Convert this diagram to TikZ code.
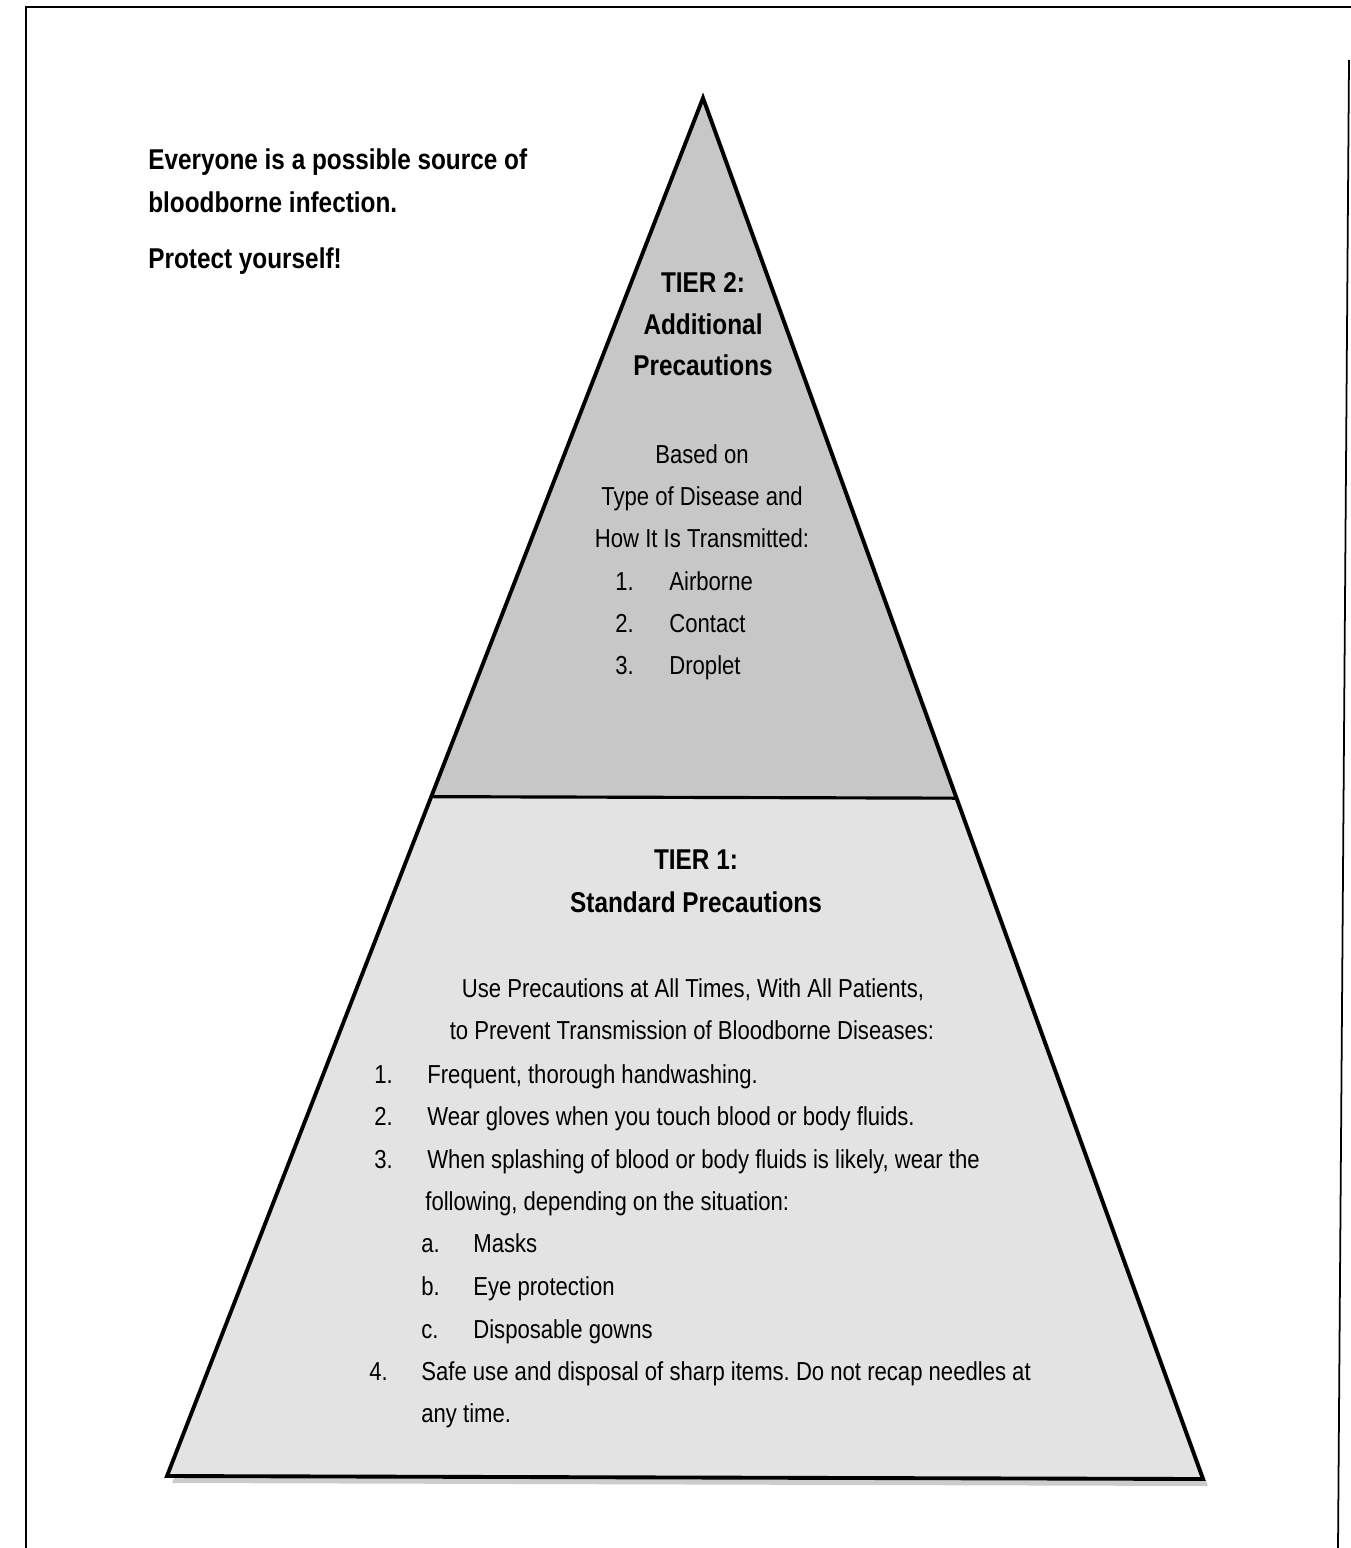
\documentclass[tikz,border=0pt]{standalone}
\usepackage{fontspec}
\setmainfont{Liberation Sans}[FakeStretch=0.85]
\usetikzlibrary{calc}
\frenchspacing
\tikzset{
  outline/.style={draw, line width=2.2pt, line join=miter},
  tiertop/.style={fill=black!22},
  tierbase/.style={fill=black!11},
  head/.style={font=\bfseries\fontsize{16.3}{19}\selectfont, inner sep=0pt, anchor=base},
  body/.style={font=\fontsize{14.8}{17}\selectfont, inner sep=0pt, anchor=base},
  item/.style={body, anchor=base west},
  note/.style={head, anchor=base west},
}

\begin{document}
\begin{tikzpicture}[x=0.02cm,y=-0.02cm]
  \useasboundingbox (0,0) rectangle (1351,1548);
  % page frame
  \draw[line width=1pt] (26,1548) -- (26,7) -- (1351,7);
  \draw[line width=1pt] (1349,60) -- (1338,1548);

  % pyramid
  \coordinate (apex) at (703,98);
  \coordinate (bl) at (167,1476);
  \coordinate (br) at (1203,1479);
  \coordinate (dl) at ($(apex)!0.507!(bl)$);
  \coordinate (dr) at ($(apex)!0.507!(br)$);
  \fill[black!20] ($(apex)+(5,7)$) -- ($(br)+(5,7)$) -- ($(bl)+(5,7)$) -- cycle;
  \fill[tiertop] (apex) -- (dr) -- (dl) -- cycle;
  \fill[tierbase] (dl) -- (dr) -- (br) -- (bl) -- cycle;
  \draw[outline] (apex) -- (br) -- (bl) -- cycle;
  \draw[line width=1.8pt] (dl) -- (dr);

  % side note
  \node[note] (warn1) at (148,170) {Everyone is a possible source of};
  \node[note] (warn2) at (148,212) {bloodborne infection.};
  \node[note] (warn3) at (148,268) {Protect yourself!};

  % tier 2
  \node[head] (t2) at (703,292) {TIER 2:};
  \node[head] (t2a) at (703,334) {Additional};
  \node[head] (t2b) at (703,375) {Precautions};
  \node[body] (t2c) at (702,463) {Based on};
  \node[body] (t2d) at (702,505) {Type of Disease and};
  \node[body] (t2e) at (702,547) {How It Is Transmitted:};
  \node[item] (n21) at (615,590) {1.};
  \node[item] (i21) at (669,590) {Airborne};
  \node[item] (n22) at (615,632) {2.};
  \node[item] (i22) at (669,632) {Contact};
  \node[item] (n23) at (615,674) {3.};
  \node[item] (i23) at (669,674) {Droplet};

  % tier 1
  \node[head] (t1) at (696,869) {TIER 1:};
  \node[head] (t1a) at (696,912) {Standard Precautions};
  \node[body] (t1b) at (693,997) {Use Precautions at All Times, With All Patients,};
  \node[body] (t1c) at (692,1039) {to Prevent Transmission of Bloodborne Diseases:};
  \node[item] (n11) at (374,1083) {1.};
  \node[item] (i11) at (427,1083) {Frequent, thorough handwashing.};
  \node[item] (n12) at (374,1125) {2.};
  \node[item] (i12) at (427,1125) {Wear gloves when you touch blood or body fluids.};
  \node[item] (n13) at (374,1168) {3.};
  \node[item] (i13) at (427,1168) {When splashing of blood or body fluids is likely, wear the};
  \node[item] (i13b) at (425,1210) {following, depending on the situation:};
  \node[item] (na) at (421,1252) {a.};
  \node[item] (ia) at (473,1252) {Masks};
  \node[item] (nb) at (421,1295) {b.};
  \node[item] (ib) at (473,1295) {Eye protection};
  \node[item] (nc) at (421,1338) {c.};
  \node[item] (ic) at (473,1338) {Disposable gowns};
  \node[item] (n14) at (369,1380) {4.};
  \node[item] (i14) at (421,1380) {Safe use and disposal of sharp items. Do not recap needles at};
  \node[item] (i14b) at (421,1422) {any time.};
\end{tikzpicture}
\end{document}
